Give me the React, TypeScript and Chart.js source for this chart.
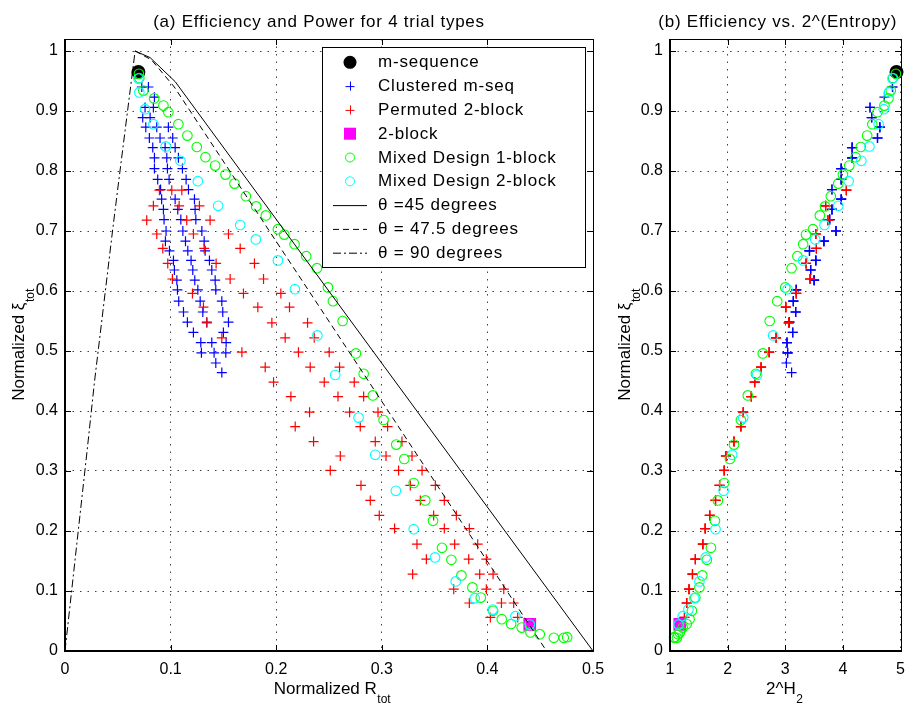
import React, { useEffect, useRef } from 'react';
import { Chart, registerables } from 'chart.js';

Chart.register(...registerables);

const FONT = '"Liberation Sans", Arial, Helvetica, sans-serif';

// ---------- tick values ----------
const xTicksA = [0, 0.1, 0.2, 0.3, 0.4, 0.5];
const xTicksB = [1, 2, 3, 4, 5];
const yTicks = [0, 0.1, 0.2, 0.3, 0.4, 0.5, 0.6, 0.7, 0.8, 0.9, 1];

// ---------- m-sequence ----------
const mSeqXi = [0.965];
const mSeqR = [0.0695];
const mSeqH = [4.93];

// ---------- 2-block ----------
const twoBlockXi = [0.0444];
const twoBlockR = [0.4401];
const twoBlockH = [1.17];

// ---------- Mixed Design 1-block (green) ----------
const greenXi = [0.962, 0.955, 0.934, 0.921, 0.909, 0.898, 0.878, 0.859, 0.840, 0.823, 0.809, 0.794, 0.779, 0.758, 0.741, 0.726, 0.703, 0.694, 0.678, 0.658, 0.638, 0.606, 0.583, 0.550, 0.496, 0.462, 0.426, 0.385, 0.344, 0.320, 0.280, 0.251, 0.217, 0.172, 0.152, 0.126, 0.106, 0.089, 0.067, 0.053, 0.045, 0.039, 0.031, 0.028, 0.022, 0.022, 0.023];
const greenR = [0.0700, 0.0704, 0.0742, 0.0844, 0.0932, 0.0979, 0.1074, 0.1159, 0.1248, 0.1330, 0.1422, 0.1520, 0.1605, 0.1713, 0.1810, 0.1902, 0.2016, 0.2076, 0.2174, 0.2284, 0.2386, 0.2490, 0.2537, 0.2629, 0.2755, 0.2828, 0.2916, 0.3017, 0.3137, 0.3213, 0.3302, 0.3412, 0.3485, 0.3570, 0.3659, 0.3754, 0.3858, 0.3937, 0.4054, 0.4136, 0.4225, 0.4325, 0.4408, 0.4496, 0.4629, 0.4723, 0.4755];
const greenH = [4.92, 4.87, 4.83, 4.79, 4.72, 4.60, 4.51, 4.42, 4.31, 4.22, 4.11, 4.00, 3.92, 3.79, 3.69, 3.60, 3.48, 3.36, 3.31, 3.21, 3.11, 3.00, 2.86, 2.73, 2.61, 2.49, 2.35, 2.23, 2.11, 2.04, 1.94, 1.83, 1.78, 1.71, 1.64, 1.56, 1.51, 1.44, 1.38, 1.34, 1.29, 1.22, 1.17, 1.14, 1.12, 1.08, 1.07];

// ---------- Mixed Design 2-block (cyan) ----------
const cyanXi = [0.954, 0.931, 0.903, 0.878, 0.841, 0.817, 0.783, 0.742, 0.710, 0.686, 0.651, 0.603, 0.526, 0.460, 0.389, 0.327, 0.267, 0.203, 0.156, 0.116, 0.088, 0.069, 0.058, 0.044];
const cyanR = [0.0695, 0.0704, 0.0758, 0.0837, 0.0954, 0.1093, 0.1258, 0.1450, 0.1659, 0.1807, 0.2016, 0.2177, 0.2390, 0.2559, 0.2780, 0.2938, 0.3133, 0.3302, 0.3504, 0.3700, 0.3880, 0.4050, 0.4265, 0.4401];
const cyanH = [4.86, 4.80, 4.71, 4.62, 4.46, 4.32, 4.10, 3.92, 3.68, 3.52, 3.31, 3.04, 2.79, 2.51, 2.27, 2.08, 1.93, 1.79, 1.62, 1.51, 1.42, 1.32, 1.22, 1.15];

// ---------- Clustered m-seq (blue): rows of equal efficiency ----------
const blueXi = [0.940, 0.923, 0.906, 0.889, 0.873, 0.855, 0.839, 0.822, 0.804, 0.786, 0.769, 0.753, 0.736, 0.719, 0.700, 0.683, 0.667, 0.651, 0.635, 0.618, 0.602, 0.583, 0.565, 0.548, 0.531, 0.514, 0.497, 0.480, 0.464];
const blueR = [
  [0.0727, 0.0790], [0.0847], [0.0758, 0.0837], [0.0736, 0.0806],
  [0.0765, 0.0869, 0.0979], [0.0799, 0.0900, 0.1020], [0.0831, 0.0948, 0.1043], [0.0847, 0.0964, 0.1074],
  [0.0847, 0.0970, 0.1112], [0.0878, 0.0986, 0.1147], [0.0905, 0.1169], [0.0915, 0.1043, 0.1226],
  [0.0932, 0.1068, 0.1232], [0.0938, 0.1097, 0.1239], [0.0957, 0.1116, 0.1296], [0.0951, 0.1141, 0.1318],
  [0.0989, 0.1163, 0.1327], [0.1027, 0.1194, 0.1368], [0.1036, 0.1210, 0.1390], [0.1059, 0.1229, 0.1422],
  [0.1065, 0.1258, 0.1428], [0.1077, 0.1280, 0.1485], [0.1122, 0.1305, 0.1494], [0.1159, 0.1343, 0.1548],
  [0.1216, 0.1500], [0.1286, 0.1390, 0.1526], [0.1292, 0.1412, 0.1523], [0.1428], [0.1485],
];
const blueH = [4.86, 4.72, 4.47, 4.50, 4.64, 4.60, 4.16, 4.16, 3.97, 3.97, 3.81, 3.97, 3.81, 3.77, 3.88, 3.67, 3.42, 3.53, 3.44, 3.50, 3.19, 3.14, 3.18, 3.07, 3.13, 3.03, 3.04, 3.02, 3.11];

// ---------- Permuted 2-block (red): rows of equal efficiency ----------
const redXi = [0.768, 0.742, 0.718, 0.695, 0.671, 0.646, 0.620, 0.596, 0.573, 0.547, 0.522, 0.498, 0.473, 0.448, 0.424, 0.398, 0.374, 0.349, 0.325, 0.301, 0.276, 0.251, 0.226, 0.204, 0.178, 0.153, 0.128, 0.103, 0.080, 0.056];
const redR = [
  [0.0894, 0.1011, 0.1106], [0.0837, 0.1081, 0.1273], [0.0774, 0.1153, 0.1374], [0.0869, 0.1216, 0.1548],
  [0.0926, 0.1318, 0.1659], [0.0973, 0.1431, 0.1794], [0.1017, 0.1564, 0.1880], [0.1207, 0.1690, 0.2044],
  [0.1311, 0.1826, 0.2126], [0.1343, 0.1959, 0.2297], [0.1485, 0.2085, 0.2360], [0.1675, 0.2211, 0.2502],
  [0.1896, 0.2322, 0.2600], [0.1975, 0.2455, 0.2739], [0.2139, 0.2585, 0.2828], [0.2316, 0.2695, 0.2964],
  [0.2180, 0.2796, 0.3055], [0.2354, 0.2938, 0.3191], [0.2607, 0.3040, 0.3286], [0.2512, 0.3159, 0.3381],
  [0.2803, 0.3270, 0.3507], [0.2891, 0.3365, 0.3592], [0.2976, 0.3491, 0.3706], [0.3121, 0.3592, 0.3829],
  [0.3333, 0.3690, 0.3908], [0.3422, 0.3823, 0.3990], [0.3292, 0.3927, 0.4054], [0.3681, 0.3990, 0.4155],
  [0.3829, 0.4133, 0.4249], [0.4028, 0.4287],
];
const redH = [4.06, 3.70, 3.74, 3.53, 3.54, 3.36, 3.43, 3.19, 3.01, 3.06, 2.84, 2.72, 2.58, 2.47, 2.41, 2.27, 2.23, 2.11, 1.97, 1.94, 1.86, 1.79, 1.69, 1.61, 1.57, 1.44, 1.39, 1.33, 1.29, 1.25];

// ---------- theoretical curves ----------
const theta45R = [0.0664, 0.0806, 0.1043, 0.5];
const theta45Xi = [1.0, 0.989, 0.949, 0.0];
const theta475R = [0.0664, 0.082, 0.1035, 0.456];
const theta475Xi = [1.0, 0.985, 0.94, 0.0];
const theta90R = [0, 0.021, 0.028, 0.045, 0.051, 0.0664];
const theta90Xi = [0, 0.335, 0.45, 0.70, 0.785, 1.0];

const legendLabels = [
  'm-sequence', 'Clustered m-seq', 'Permuted 2-block', '2-block',
  'Mixed Design 1-block', 'Mixed Design 2-block',
  'θ =45 degrees', 'θ = 47.5 degrees', 'θ = 90 degrees',
];

// ---------- helpers ----------
const pts = (xs: number[], ys: number[]) => xs.map((x, i) => ({ x, y: ys[i] }));
const rowPts = (ys: number[], rows: number[][]) => ys.flatMap((y, i) => rows[i].map((x) => ({ x, y })));
const rowPtsH = (ys: number[], hs: number[], rows: number[][]) => ys.flatMap((y, i) => rows[i].map(() => ({ x: hs[i], y })));

const GRID_COLOR = 'rgba(0,0,0,0.75)';
const GRID_DASH = [1.5, 6];
const DASHED = [6, 4];
const DASHDOT = [8, 3, 2, 3];

const BLUE = '#0000ff', RED = '#ff0000', GREEN = '#00ff00', CYAN = '#00ffff', MAGENTA = '#ff00ff';

function crossDs(data: any[], color: string) {
  return { data, pointStyle: 'cross', pointRadius: 5, borderColor: color, backgroundColor: color, borderWidth: 1.2, clip: false };
}
function circleDs(data: any[], color: string) {
  return { data, pointStyle: 'circle', pointRadius: 4.8, borderColor: color, backgroundColor: 'rgba(0,0,0,0)', borderWidth: 1.1, clip: false };
}
function squareDs(data: any[]) {
  return { data, pointStyle: 'rect', pointRadius: 9, borderColor: MAGENTA, backgroundColor: MAGENTA, borderWidth: 0, clip: false };
}
function dotDs(data: any[]) {
  return { data, pointStyle: 'circle', pointRadius: 7, borderColor: '#000', backgroundColor: '#000', borderWidth: 0, clip: false };
}
function lineDs(data: any[], dash: number[]) {
  return { data, showLine: true, pointRadius: 0, borderColor: '#000', borderWidth: 1, borderDash: dash, fill: false, tension: 0 };
}

function drawSubLabel(ctx: CanvasRenderingContext2D, main: string, sub: string, cx: number, baseY: number) {
  ctx.font = `17px ${FONT}`;
  const w1 = ctx.measureText(main).width;
  ctx.font = `12px ${FONT}`;
  const w2 = ctx.measureText(sub).width;
  const x = cx - (w1 + w2) / 2;
  ctx.textAlign = 'left';
  ctx.textBaseline = 'alphabetic';
  ctx.font = `17px ${FONT}`;
  ctx.fillText(main, x, baseY);
  ctx.font = `12px ${FONT}`;
  ctx.fillText(sub, x + w1 + 0.5, baseY + 9.5);
}

type PanelDecor = {
  title: string; titleDx: number;
  xMain: string; xSub: string; xDx: number;
  yMain: string; ySub: string; yLabelX: number;
  legend: boolean;
};

function makeDecor(p: PanelDecor) {
  return {
    id: 'panelDecor',
    afterDraw(chart: any) {
      const ctx: CanvasRenderingContext2D = chart.ctx;
      const a = chart.chartArea;
      const xs = chart.scales.x;
      const ys = chart.scales.y;
      const L = Math.round(a.left), R = Math.round(a.right), T = Math.round(a.top), B = Math.round(a.bottom);
      ctx.save();
      ctx.strokeStyle = '#000';
      ctx.fillStyle = '#000';
      // inward ticks
      ctx.lineWidth = 1;
      ctx.setLineDash([]);
      ctx.beginPath();
      for (const t of xs.ticks) {
        const px = Math.round(xs.getPixelForValue(t.value)) + 0.5;
        ctx.moveTo(px, B); ctx.lineTo(px, B - 6);
        ctx.moveTo(px, T); ctx.lineTo(px, T + 6);
      }
      for (const t of ys.ticks) {
        const py = Math.round(ys.getPixelForValue(t.value)) + 0.5;
        ctx.moveTo(L, py); ctx.lineTo(L + 6, py);
        ctx.moveTo(R, py); ctx.lineTo(R - 6, py);
      }
      ctx.stroke();
      // box
      ctx.lineWidth = 1;
      ctx.strokeRect(L + 0.5, T + 0.5, R - L, B - T);
      ctx.lineWidth = 2;
      ctx.beginPath();
      ctx.moveTo(L, T); ctx.lineTo(L, B + 1);
      ctx.moveTo(L - 1, B); ctx.lineTo(R + 1, B);
      ctx.stroke();

      // title
      ctx.font = `17px ${FONT}`;
      (ctx as any).letterSpacing = '0.75px';
      ctx.textAlign = 'center';
      ctx.textBaseline = 'alphabetic';
      ctx.fillText(p.title, (a.left + a.right) / 2 + p.titleDx, 26.5);
      (ctx as any).letterSpacing = '0px';

      // axis titles
      drawSubLabel(ctx, p.xMain, p.xSub, (a.left + a.right) / 2 + p.xDx, 693.5);
      ctx.save();
      ctx.translate(p.yLabelX, (a.top + a.bottom) / 2);
      ctx.rotate(-Math.PI / 2);
      drawSubLabel(ctx, p.yMain, p.ySub, 0, 0);
      ctx.restore();

      // legend
      if (p.legend) {
        const lx = 322, ly = 47, lw = 263, lh = 220;
        ctx.fillStyle = '#fff';
        ctx.fillRect(lx, ly, lw, lh);
        ctx.strokeStyle = '#000';
        ctx.lineWidth = 1;
        ctx.strokeRect(lx + 0.5, ly + 0.5, lw, lh);
        const sx = 350, tx = 378;
        legendLabels.forEach((label, i) => {
          const y = 62.3 + 23.8 * i;
          ctx.save();
          ctx.lineWidth = 1;
          if (i === 0) {
            ctx.fillStyle = '#000';
            ctx.beginPath(); ctx.arc(sx, y, 6.5, 0, Math.PI * 2); ctx.fill();
          } else if (i === 1 || i === 2) {
            ctx.strokeStyle = i === 1 ? BLUE : RED;
            ctx.beginPath();
            ctx.moveTo(sx - 4.5, y + 0.5); ctx.lineTo(sx + 4.5, y + 0.5);
            ctx.moveTo(sx + 0.5, y - 4.5); ctx.lineTo(sx + 0.5, y + 4.5);
            ctx.stroke();
          } else if (i === 3) {
            ctx.fillStyle = MAGENTA;
            ctx.fillRect(sx - 6, y - 6, 12, 12);
          } else if (i === 4 || i === 5) {
            ctx.strokeStyle = i === 4 ? GREEN : CYAN;
            ctx.beginPath(); ctx.arc(sx, y, 4.5, 0, Math.PI * 2); ctx.stroke();
          } else {
            ctx.strokeStyle = '#000';
            ctx.setLineDash(i === 6 ? [] : i === 7 ? DASHED : DASHDOT);
            ctx.beginPath(); ctx.moveTo(333, y + 0.5); ctx.lineTo(367, y + 0.5); ctx.stroke();
          }
          ctx.restore();
          ctx.fillStyle = '#000';
          ctx.font = `17px ${FONT}`;
          (ctx as any).letterSpacing = '0.8px';
          ctx.textAlign = 'left';
          ctx.textBaseline = 'alphabetic';
          ctx.fillText(label, tx, y + 5);
          (ctx as any).letterSpacing = '0px';
        });
      }
      ctx.restore();
    },
  };
}

function makeScales(xMin: number, xMax: number, xTicks: number[], yWidth: number) {
  const tickFont = { family: FONT, size: 16 };
  return {
    x: {
      type: 'linear', position: 'bottom', min: xMin, max: xMax,
      afterBuildTicks: (s: any) => { s.ticks = xTicks.map((v) => ({ value: v })); },
      afterFit: (s: any) => { s.height = 56; },
      grid: { color: GRID_COLOR, lineWidth: 1, drawTicks: false },
      border: { display: false, dash: GRID_DASH },
      ticks: { color: '#000', font: tickFont, padding: 9, maxRotation: 0, autoSkip: false, callback: (v: any) => String(v) },
    },
    y: {
      type: 'linear', position: 'left', min: 0, max: 1.02,
      afterBuildTicks: (s: any) => { s.ticks = yTicks.map((v) => ({ value: v })); },
      afterFit: (s: any) => { s.width = yWidth; },
      grid: { color: GRID_COLOR, lineWidth: 1, drawTicks: false },
      border: { display: false, dash: GRID_DASH },
      ticks: { color: '#000', font: tickFont, padding: 7, autoSkip: false, callback: (v: any) => String(v) },
    },
  };
}

const commonOptions = {
  responsive: false,
  animation: false as const,
  devicePixelRatio: 1,
  events: [] as any[],
  plugins: { legend: { display: false }, tooltip: { enabled: false }, title: { display: false } },
};

export default function App() {
  const refA = useRef<HTMLCanvasElement>(null);
  const refB = useRef<HTMLCanvasElement>(null);

  useEffect(() => {
    const chartA = new Chart(refA.current as HTMLCanvasElement, {
      type: 'scatter',
      data: {
        datasets: [
          lineDs(pts(theta45R, theta45Xi), []),
          lineDs(pts(theta475R, theta475Xi), DASHED),
          lineDs(pts(theta90R, theta90Xi), DASHDOT),
          circleDs(pts(cyanR, cyanXi), CYAN),
          circleDs(pts(greenR, greenXi), GREEN),
          squareDs(pts(twoBlockR, twoBlockXi)),
          crossDs(rowPts(redXi, redR), RED),
          crossDs(rowPts(blueXi, blueR), BLUE),
          dotDs(pts(mSeqR, mSeqXi)),
        ] as any,
      },
      options: {
        ...commonOptions,
        layout: { padding: { top: 39, left: 0, right: 321, bottom: 0 } },
        scales: makeScales(0, 0.5, xTicksA, 65) as any,
      } as any,
      plugins: [makeDecor({
        title: '(a) Efficiency and Power for 4 trial types', titleDx: -10,
        xMain: 'Normalized R', xSub: 'tot', xDx: 3,
        yMain: 'Normalized ξ', ySub: 'tot', yLabelX: 24,
        legend: true,
      })],
    });

    const chartB = new Chart(refB.current as HTMLCanvasElement, {
      type: 'scatter',
      data: {
        datasets: [
          circleDs(pts(cyanH, cyanXi), CYAN),
          circleDs(pts(greenH, greenXi), GREEN),
          squareDs(pts(twoBlockH, twoBlockXi)),
          crossDs(rowPtsH(redXi, redH, redR), RED),
          crossDs(rowPtsH(blueXi, blueH, blueR), BLUE),
          dotDs(pts(mSeqH, mSeqXi)),
        ] as any,
      },
      options: {
        ...commonOptions,
        layout: { padding: { top: 39, left: 610, right: 4, bottom: 0 } },
        scales: makeScales(1, 5, xTicksB, 60) as any,
      } as any,
      plugins: [makeDecor({
        title: '(b) Efficiency vs. 2^(Entropy)', titleDx: -7.5,
        xMain: '2^H', xSub: '2', xDx: -1,
        yMain: 'Normalized ξ', ySub: 'tot', yLabelX: 630,
        legend: false,
      })],
    });

    return () => { chartA.destroy(); chartB.destroy(); };
  }, []);

  const cs: React.CSSProperties = { position: 'absolute', left: 0, top: 0, width: 914, height: 707 };
  return (
    <div style={{ position: 'fixed', left: 0, top: 0, width: 914, height: 707, background: '#fff' }}>
      <canvas ref={refA} width={914} height={707} style={cs} />
      <canvas ref={refB} width={914} height={707} style={cs} />
    </div>
  );
}
